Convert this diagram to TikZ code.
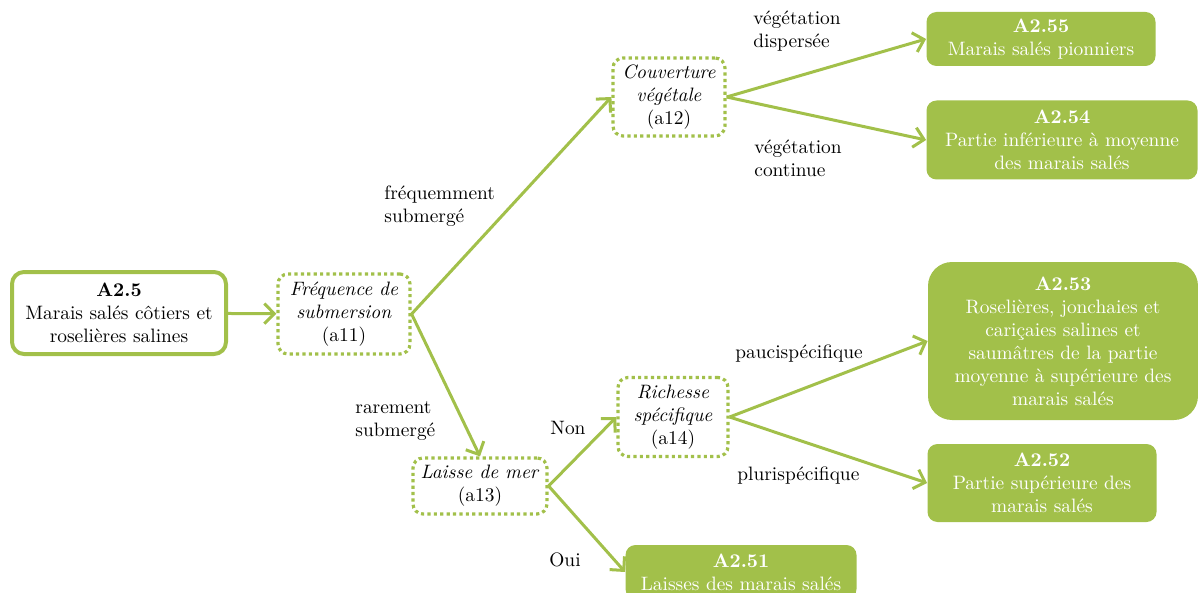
\documentclass[tikz,border=0pt]{standalone}
\usepackage{tikz}
\usetikzlibrary{arrows.meta}
\definecolor{vert}{RGB}{162,192,74}

\begin{document}
\begin{tikzpicture}[x=0.5pt,y=-0.5pt,>={Straight Barb[length=5pt,width=10pt]},
    font=\fontsize{9.7}{11.5}\selectfont,
    racine/.style={rectangle,rounded corners=6pt,draw=vert,line width=2pt,align=center,
      minimum width=107pt,minimum height=41pt,inner sep=1pt},
    critere/.style={rectangle,rounded corners=5pt,draw=vert,line width=1.6pt,
      dash pattern=on 1.6pt off 1.6pt,align=center,inner sep=1pt},
    habitat/.style={rectangle,rounded corners=5pt,fill=vert,text=white,align=center,inner sep=1pt},
    fleche/.style={->,draw=vert,line width=1.5pt},
    choix/.style={align=left,inner sep=0pt}]
  \useasboundingbox (0,0) rectangle (1198,593);

  % racine et criteres
  \node[racine] (A25) at (119,313) {\textbf{A2.5}\\Marais salés côtiers et\\roselières salines};
  \node[critere,minimum width=66pt,minimum height=40pt] (a11) at (344,314) {\textit{Fréquence de}\\\textit{submersion}\\(a11)};
  \node[critere,minimum width=56pt,minimum height=39pt] (a12) at (669,97) {\textit{Couverture}\\\textit{végétale}\\(a12)};
  \node[critere,minimum width=67pt,minimum height=28pt] (a13) at (480,486) {\textit{Laisse de mer}\\(a13)};
  \node[critere,minimum width=55pt,minimum height=39.5pt] (a14) at (673,417) {\textit{Richesse}\\\textit{spécifique}\\(a14)};

  % habitats
  \node[habitat,minimum width=114.5pt,minimum height=27pt] (A255) at (1041,39) {\textbf{A2.55}\\Marais salés pionniers};
  \node[habitat,minimum width=135.5pt,minimum height=39.5pt] (A254) at (1062,140) {\textbf{A2.54}\\Partie inférieure à moyenne\\des marais salés};
  \node[habitat,rounded corners=12pt,minimum width=135pt,minimum height=79pt] (A253) at (1063,341) {\textbf{A2.53}\\Roselières, jonchaies et\\cariçaies salines et\\saumâtres de la partie\\moyenne à supérieure des\\marais salés};
  \node[habitat,minimum width=114.5pt,minimum height=39pt] (A252) at (1042,483) {\textbf{A2.52}\\Partie supérieure des\\marais salés};
  \node[habitat,minimum width=115.5pt,minimum height=27pt] (A251) at (741,572) {\textbf{A2.51}\\Laisses des marais salés};

  % fleches
  \draw[fleche] (A25) -- (a11);
  \draw[fleche] (a11.east) -- (a12.west);
  \draw[fleche] (a11.east) -- (a13.north);
  \draw[fleche] (a12.east) -- (A255.west);
  \draw[fleche] (a12.east) -- (A254.west);
  \draw[fleche] (a13.east) -- (a14.west);
  \draw[fleche] (a13.east) -- (A251.west);
  \draw[fleche] (a14.east) -- (A253.west);
  \draw[fleche] (a14.east) -- (A252.west);

  % choix
  \node[choix,anchor=west] (l1) at (384,206) {fréquemment\\submergé};
  \node[choix,anchor=west] (l2) at (355,421) {rarement\\submergé};
  \node[choix] (l3) at (568,428) {Non};
  \node[choix] (l4) at (565,560) {Oui};
  \node[choix,anchor=west] (l5) at (753,31) {végétation\\dispersée};
  \node[choix,anchor=west] (l6) at (754,158) {végétation\\continue};
  \node[choix,anchor=west] (l7) at (735,354) {paucispécifique};
  \node[choix,anchor=west] (l8) at (737,476) {plurispécifique};
\end{tikzpicture}
\end{document}
